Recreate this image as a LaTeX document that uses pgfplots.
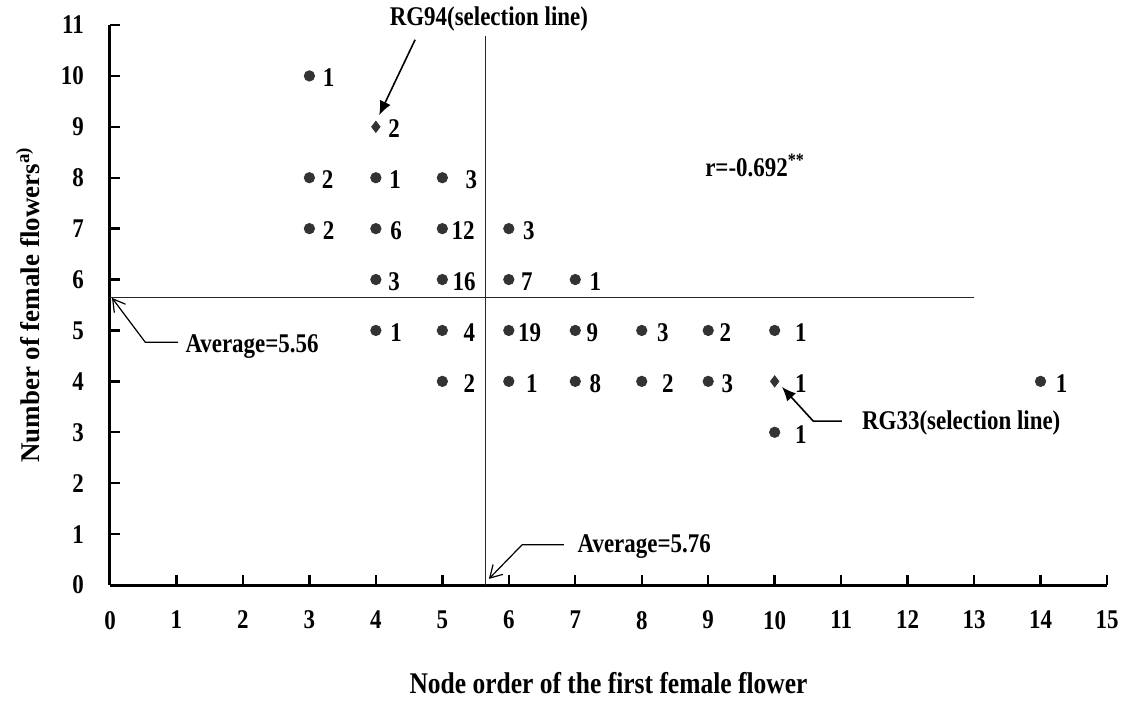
\documentclass[border=0pt]{standalone}
\usepackage{pgfplots}
\pgfplotsset{compat=1.18}
\usepackage{pgfplotstable}
\usepackage{fontspec}
\setmainfont{Liberation Serif}[FakeStretch=0.85]
\newfontfamily\ylabfont{Liberation Serif}
\usetikzlibrary{arrows.meta}

\pgfplotstableread{
x y lab off
3 10 1 6.5
3 8 2 6
4 8 1 6.5
5 8 3 11.5
3 7 2 6.5
4 7 6 7
5 7 12 4.5
6 7 3 7
4 6 3 6
5 6 16 5
6 6 7 6
7 6 1 7
4 5 1 7
5 5 4 10.5
6 5 19 4.5
7 5 9 5.5
8 5 3 7.5
9 5 2 5.5
10 5 1 10
5 4 2 10.5
6 4 1 8.5
7 4 8 7
8 4 2 10
9 4 3 6.5
14 4 1 7.5
10 3 1 10
}\dots

\pgfplotstableread{
x y lab off
4 9 2 6
10 4 1 10
}\dias

\begin{document}
\begin{tikzpicture}
\begin{axis}[name=ax, scale only axis, width=498.5pt, height=280pt,
  xmin=0, xmax=15, ymin=0, ymax=11,
  axis lines=left, axis line style={-, line width=1.5pt, black},
  xtick={0,...,15}, ytick={0,...,11},
  tick align=inside, major tick length=5pt,
  tick style={line width=1.2pt, black},
  /pgf/number format/assume math mode=true,
  tick label style={font=\fontsize{13.5}{15}\selectfont\bfseries},
  xticklabel style={yshift=-9.5pt},
  yticklabel style={xshift=-9.5pt},
  clip=false]

\draw[line width=0.7pt, black!85] (axis cs:0,5.65) -- (axis cs:13,5.65);
\draw[line width=0.7pt, black!85] (axis cs:5.65,0) -- (axis cs:5.65,10.78);

\addplot[only marks, mark=*, mark size=2.6pt, color=black!80,
  nodes near coords, point meta=explicit symbolic,
  visualization depends on={\thisrow{off}\as\off},
  every node near coord/.append style={anchor=west, xshift=\off pt, yshift=-1pt,
    inner sep=0pt, text=black, font=\fontsize{13.5}{15}\selectfont\bfseries}]
  table[x=x, y=y, meta=lab] {\dots};

\addplot[only marks, mark=diamond*, mark size=2.8pt, color=black!80,
  nodes near coords, point meta=explicit symbolic,
  visualization depends on={\thisrow{off}\as\off},
  every node near coord/.append style={anchor=west, xshift=\off pt, yshift=-1pt,
    inner sep=0pt, text=black, font=\fontsize{13.5}{15}\selectfont\bfseries}]
  table[x=x, y=y, meta=lab] {\dias};

% annotations
\node[font=\fontsize{13.5}{15}\selectfont\bfseries, inner sep=0pt] at (axis cs:5.7,11.12) {RG94(selection line)};
\draw[line width=0.8pt, -{Latex[length=7pt,width=6pt]}] (axis cs:4.59,10.71) -- (axis cs:4.05,9.23);

\node[font=\fontsize{13.5}{15}\selectfont\bfseries, anchor=west, inner sep=0pt] at (axis cs:8.95,8.24) {r=-0.692\textsuperscript{**}};

\draw[line width=0.6pt, -{Straight Barb[length=6pt,width=7pt]}] (axis cs:1.02,4.77) -- (axis cs:0.53,4.77) -- (axis cs:0.03,5.64);
\node[font=\fontsize{13.5}{15}\selectfont\bfseries, anchor=west, inner sep=0pt] at (axis cs:1.13,4.68) {Average=5.56};

\draw[line width=0.6pt, -{Straight Barb[length=6pt,width=7pt]}] (axis cs:6.83,0.79) -- (axis cs:6.2,0.79) -- (axis cs:5.70,0.12);
\node[font=\fontsize{13.5}{15}\selectfont\bfseries, anchor=west, inner sep=0pt] at (axis cs:7.03,0.75) {Average=5.76};

\draw[line width=0.8pt, -{Latex[length=7pt,width=6pt]}] (axis cs:11.01,3.22) -- (axis cs:10.58,3.22) -- (axis cs:10.11,3.89);
\node[font=\fontsize{13.5}{15}\selectfont\bfseries, anchor=west, inner sep=0pt] at (axis cs:11.31,3.18) {RG33(selection line)};
\end{axis}

\node[font=\fontsize{15}{17}\selectfont\bfseries] at ([yshift=-49pt]ax.south) {Node order of the first female flower};
\node[font=\fontsize{13.5}{15}\selectfont\ylabfont\bfseries, rotate=90] at ([xshift=-41pt]ax.west) {Number of female flowers\textsuperscript{a)}};

\path ([shift={(-55pt,-56.5pt)}]ax.south west) rectangle ([shift={(10pt,12.5pt)}]ax.north east);
\end{tikzpicture}
\end{document}
